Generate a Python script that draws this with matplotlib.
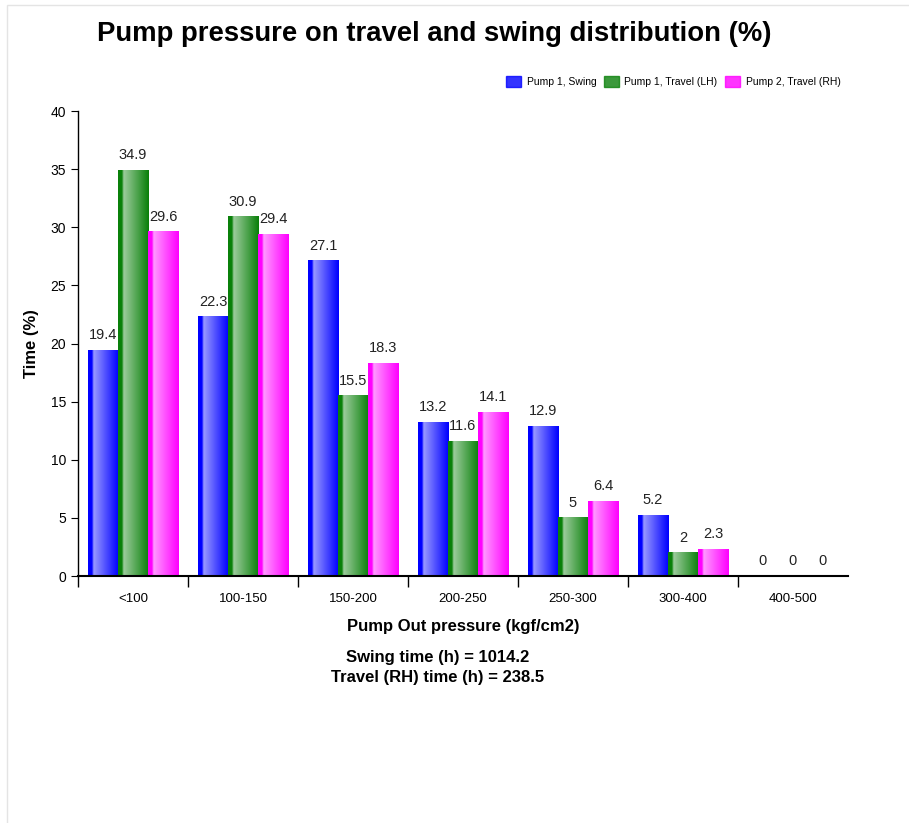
import numpy as np
import matplotlib.pyplot as plt
from matplotlib.colors import LinearSegmentedColormap, to_rgb
from matplotlib.patches import Patch

plt.rcParams['font.family'] = ['Liberation Sans', 'DejaVu Sans']

categories = ['<100', '100-150', '150-200', '200-250', '250-300', '300-400', '400-500']
swing = [19.4, 22.3, 27.1, 13.2, 12.9, 5.2, 0]
travel_lh = [34.9, 30.9, 15.5, 11.6, 5, 2, 0]
travel_rh = [29.6, 29.4, 18.3, 14.1, 6.4, 2.3, 0]
series_names = ['Pump 1, Swing', 'Pump 1, Travel (LH)', 'Pump 2, Travel (RH)']
series_colors = ['#0000ff', '#0a800a', '#ff00ff']


def bar_cmap(color):
    base = np.array(to_rgb(color))
    light = base + (1 - base) * 0.6
    return LinearSegmentedColormap.from_list(
        'g', [(0, base), (0.12, base), (0.18, light), (1.0, base)])


fig = plt.figure(figsize=(9.09, 8.23), dpi=100)
fig.patches.append(plt.Rectangle((0.008, -0.01), 1.2, 1.004, transform=fig.transFigure,
                                 fill=False, edgecolor='#e4e4e4', lw=1))
ax = fig.add_axes([0.0858, 0.3001, 0.847, 0.565])

x = np.arange(len(categories))
width = 0.273
grad = np.linspace(0, 1, 64).reshape(1, -1)
for i, (vals, col) in enumerate(zip([swing, travel_lh, travel_rh], series_colors)):
    cmap = bar_cmap(col)
    for xi, v in zip(x, vals):
        x0 = xi + (i - 1) * width - width / 2
        if v > 0:
            ax.imshow(grad, extent=[x0, x0 + width, 0, v], aspect='auto', cmap=cmap,
                      interpolation='bilinear', zorder=2)
        ax.text(x0 + width / 2, v + 0.7, f'{v:g}', ha='center', va='bottom',
                fontsize=10.5, color='#222222')

ax.set_xlim(-0.5, len(categories) - 0.5)
ax.set_ylim(0, 40)
ax.set_yticks(np.arange(0, 41, 5))
ax.set_xticks(x)
ax.set_xticklabels(categories, fontsize=9.5)
ax.set_xticks(np.arange(-0.5, len(categories) - 0.5, 1), minor=True)
ax.tick_params(axis='x', which='major', length=0, pad=12)
ax.tick_params(axis='x', which='minor', length=8, width=1)
ax.tick_params(axis='y', length=5, labelsize=10)
for s in ['top', 'right']:
    ax.spines[s].set_visible(False)
ax.spines['left'].set_linewidth(1)
ax.spines['bottom'].set_linewidth(1.5)

ax.set_ylabel('Time (%)', fontsize=12, fontweight='bold', labelpad=8)
ax.set_xlabel('Pump Out pressure (kgf/cm2)', fontsize=12, fontweight='bold', labelpad=10)

fig.text(0.478, 0.959, 'Pump pressure on travel and swing distribution (%)',
         ha='center', va='center', fontsize=19.8, fontweight='bold')
fig.text(0.481, 0.201, 'Swing time (h) = 1014.2', ha='center', va='center',
         fontsize=12, fontweight='bold')
fig.text(0.481, 0.177, 'Travel (RH) time (h) = 238.5', ha='center', va='center',
         fontsize=12, fontweight='bold')

handles = [Patch(facecolor=c, edgecolor=c, alpha=0.8) for c in series_colors]
fig.legend(handles, series_names, loc='center right', bbox_to_anchor=(0.935, 0.901),
           ncol=3, frameon=False, fontsize=7.5, handlelength=1.5, handleheight=1.3,
           columnspacing=0.7, handletextpad=0.5)

fig.savefig('out.png', dpi=100)
